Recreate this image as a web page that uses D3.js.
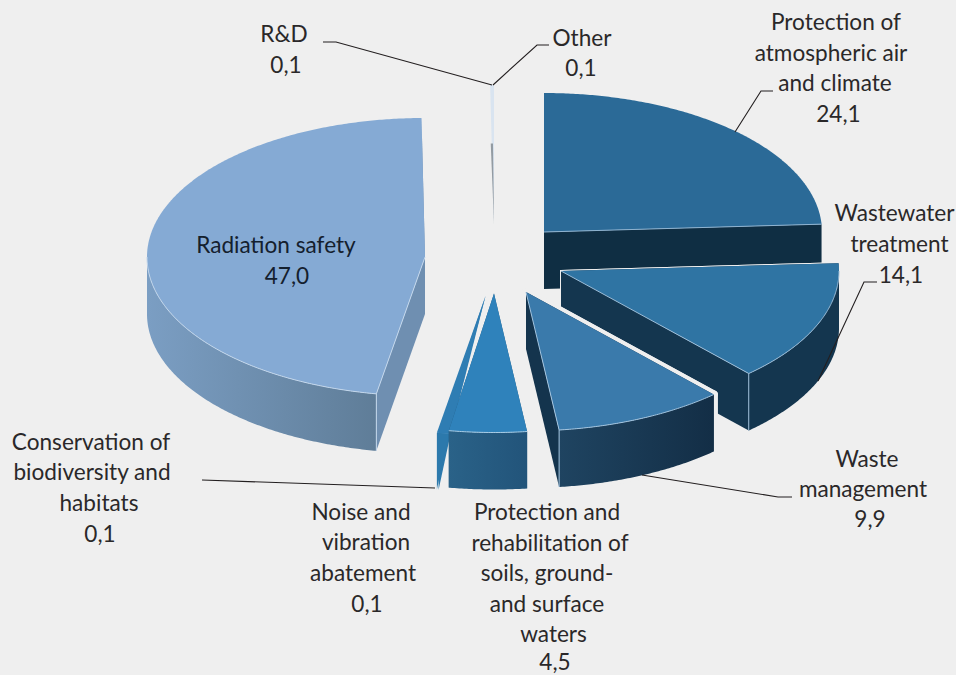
<!DOCTYPE html>
<html>
<head>
<meta charset="utf-8">
<style>
  html, body { margin: 0; padding: 0; background: #efefef; }
  svg { display: block; }
  text { font-family: Lato, "Open Sans", sans-serif; font-size: 22.6px; fill: #2a2829; text-anchor: middle; }
</style>
<script src="https://cdn.jsdelivr.net/npm/d3@7/dist/d3.min.js"></script>
</head>
<body>
<svg id="chart" width="956" height="675"></svg>
<script>
// Shares of environmental protection spending, clockwise from twelve o'clock.
const categories = [
  "Protection of atmospheric air and climate",
  "Wastewater treatment",
  "Waste management",
  "Protection and rehabilitation of soils, ground- and surface waters",
  "Noise and vibration abatement",
  "Conservation of biodiversity and habitats",
  "Radiation safety",
  "R&D",
  "Other"
];
const shares = [24.1, 14.1, 9.9, 4.5, 0.1, 0.1, 47.0, 0.1, 0.1];
const shareLabels = ["24,1", "14,1", "9,9", "4,5", "0,1", "0,1", "47,0", "0,1", "0,1"];

// Exploded apex of each wedge on the page.
const apexX = [544, 561, 526, 494, 485.5, 485.5, 425, 494, 494];
const apexY = [232, 271, 292, 293.5, 296, 296, 257, 224, 224];
// Very thin wedges get a minimum visible sweep (degrees), measured back from their end angle.
const minSweep = [0, 0, 0, 0, 2.5, 2.5, 0, 0.8, 0.8];
const radialReach = [1, 1, 1, 1, 1, 1, 1, 0.58, 1];
// Width of the pale outline that separates a wedge from what lies behind it.
const haloWidth = [0, 2, 8, 0, 0, 0, 0, 0, 0];

const topFill  = ["#2b6a97", "#2f74a3", "#3a7aab", "#2f82bb", "#2f7db3", "#2f7db3", "#85aad4", "#939ba2", "#d9e4f0"];
const edgeFill = ["#0f2e43", "#14364f", "#14344d", "#245a80", "#2c79ac", "#2c79ac", "#6f8fb1", "#939ba2", "#d9e4f0"];
const rimFrom  = ["#0f2e43", "#14364f", "#1f4461", "#2a6288", "#2c79ac", "#2c79ac", "#7b9ec3", "#939ba2", "#d9e4f0"];
const rimTo    = ["#0f2e43", "#14364f", "#132e46", "#22547a", "#2c79ac", "#2c79ac", "#5f7d98", "#939ba2", "#d9e4f0"];
const bevel    = ["#8fb3d0", "#9cbdd8", "#a3c4df", "#a9cde6", "none", "none", "#c3d7ec", "none", "none"];

const labelLines = [
  ["Protection of", "atmospheric air", "and climate", "24,1"],
  ["Wastewater", "treatment", "14,1"],
  ["Waste", "management", "9,9"],
  ["Protection and", "rehabilitation of", "soils, ground-", "and surface", "waters", "4,5"],
  ["Noise and", "vibration", "abatement", "0,1"],
  ["Conservation of", "biodiversity and", "habitats", "0,1"],
  ["Radiation safety", "47,0"],
  ["R&D", "0,1"],
  ["Other", "0,1"]
];
const labelCentres = [
  [836, 831, 835, 838.5],
  [894.5, 899.5, 901],
  [867, 863, 870],
  [547, 550, 547, 547, 553.5, 555],
  [361, 366, 363, 367],
  [91, 92, 99, 100],
  [276, 287],
  [284, 286],
  [582, 581]
];
const labelBaselines = [
  [30, 61, 91, 122],
  [221, 252, 283],
  [467, 497, 527],
  [520, 551, 581, 612, 642, 670],
  [520, 550, 581, 612],
  [450, 480, 511, 542],
  [253, 284],
  [42, 73],
  [46, 76]
];

const leaderPaths = [
  [[773, 91], [761, 91], [735, 132]],
  [[877, 282], [864, 282], [818, 381]],
  [[792, 497], [778, 497], [642, 475]],
  [],
  [],
  [[202, 480], [435, 488]],
  [],
  [[323, 42], [336, 42], [492, 85]],
  [[549, 45], [537, 45], [493, 85]]
];

const rx = 278, ry = 139, depth = 57;

const svg = d3.select("#chart");
const defs = svg.append("defs");
const rad = d3.scaleLinear().domain([0, 360]).range([0, 2 * Math.PI]);
const deg = d3.scaleLinear().domain([0, 2 * Math.PI]).range([0, 360]);

const arcs = d3.pie().sort(null).value(d => d).startAngle(0).endAngle(2 * Math.PI)(shares);
const line = d3.line();

// Point on the projected disc of wedge i at a clockwise angle in degrees.
function rimPoint(i, a, reach = 1, drop = 0) {
  const t = rad(a);
  return [apexX[i] + rx * reach * Math.sin(t), apexY[i] - ry * reach * Math.cos(t) + drop];
}
const sweep = (a0, a1) => d3.range(a0, a1, 0.5).concat([a1]);

const wedges = arcs.map((arc, i) => {
  const end = deg(arc.endAngle);
  const start = minSweep[i] ? end - minSweep[i] : deg(arc.startAngle);
  return { i, start, end };
});

function drawWedge({ i, start, end }) {
  const g = svg.append("g").attr("class", "wedge");
  const apex = [apexX[i], apexY[i]];
  const apexLow = [apex[0], apex[1] + depth];
  const startRim = rimPoint(i, start, radialReach[i]);
  const endRim = rimPoint(i, end, radialReach[i]);
  const outline = [apex].concat(sweep(start, end).map(a => rimPoint(i, a, radialReach[i])));

  const from = Math.max(start, 90), to = Math.min(end, 270);
  const upper = to > from ? sweep(from, to).map(a => rimPoint(i, a)) : [];
  const lower = to > from ? sweep(from, to).reverse().map(a => rimPoint(i, a, 1, depth)) : [];
  const startWall = [apex, startRim, rimPoint(i, start, 1, depth), apexLow];
  const endWall = [apex, endRim, rimPoint(i, end, 1, depth), apexLow];

  if (haloWidth[i]) {
    [outline, startWall, endWall, upper.concat(lower)].filter(p => p.length).forEach(p => {
      g.append("path").attr("fill", "#efefef").attr("stroke", "#efefef")
        .attr("stroke-width", haloWidth[i]).attr("stroke-linejoin", "round")
        .attr("d", line(p) + "Z");
    });
  }

  if (minSweep[i] > 1) {
    // Sliver wedges show only a tapering face below their rim.
    g.append("path").attr("fill", edgeFill[i])
      .attr("d", line([endRim, startRim, rimPoint(i, end, 1, depth)]) + "Z");
  } else if (!minSweep[i]) {
    // Radial walls: the wedge top painted afterwards hides whichever faces away.
    g.append("path").attr("fill", edgeFill[i]).attr("d", line(startWall) + "Z");
    g.append("path").attr("fill", edgeFill[i]).attr("d", line(endWall) + "Z");

    // Curved outer wall, front half of the disc only.
    if (to > from) {
      const id = "rim" + i;
      const grad = defs.append("linearGradient").attr("id", id)
        .attr("gradientUnits", "userSpaceOnUse")
        .attr("x1", d3.min(upper, p => p[0])).attr("x2", d3.max(upper, p => p[0]))
        .attr("y1", 0).attr("y2", 0);
      grad.append("stop").attr("offset", 0).attr("stop-color", rimFrom[i]);
      grad.append("stop").attr("offset", 1).attr("stop-color", rimTo[i]);
      g.append("path").attr("fill", `url(#${id})`).attr("d", line(upper.concat(lower)) + "Z");
    }
  }

  // Top face.
  g.append("path").attr("fill", topFill[i]).attr("d", line(outline) + "Z");

  // Light bevel along the front edges of the top face.
  if (bevel[i] !== "none") {
    const t0 = rad(start), t1 = rad(end);
    const stroke = pts => g.append("path").attr("fill", "none").attr("stroke", bevel[i])
      .attr("stroke-width", 1).attr("stroke-linejoin", "round").attr("d", line(pts));
    if (to > from) stroke(upper);
    if (-Math.sin(t0) > 0) stroke([apex, startRim]);
    if (Math.sin(t1) > 0) stroke([apex, endRim]);
    // Vertical seam where a radial wall meets the curved wall.
    const seam = -Math.sin(t0) > 0 ? start : (Math.sin(t1) > 0 && end > 90 ? end : null);
    if (seam !== null) stroke([rimPoint(i, seam), rimPoint(i, seam, 1, depth)]);
  }
}

// Back wedges first so the front ones overlap them.
[6, 8, 7, 4, 5, 0, 1, 2, 3].forEach(i => drawWedge(wedges[i]));

// Leader lines.
svg.append("g").selectAll("path")
  .data(leaderPaths.filter(p => p.length))
  .join("path")
  .attr("fill", "none").attr("stroke", "#231f20").attr("stroke-width", 1.1)
  .attr("d", d => line(d));

// Multi-line category and value labels.
svg.append("g").selectAll("text")
  .data(labelLines.map((lines, i) => ({ lines, i })))
  .join("text")
  .attr("data-category", d => categories[d.i])
  .attr("data-share", d => shareLabels[d.i])
  .style("fill", d => d.i === 6 ? "#14202e" : null)
  .each(function (d) {
    d3.select(this).selectAll("tspan").data(d.lines).join("tspan")
      .attr("x", (_, k) => labelCentres[d.i][k])
      .attr("y", (_, k) => labelBaselines[d.i][k])
      .text(t => t);
  });
</script>
</body>
</html>
